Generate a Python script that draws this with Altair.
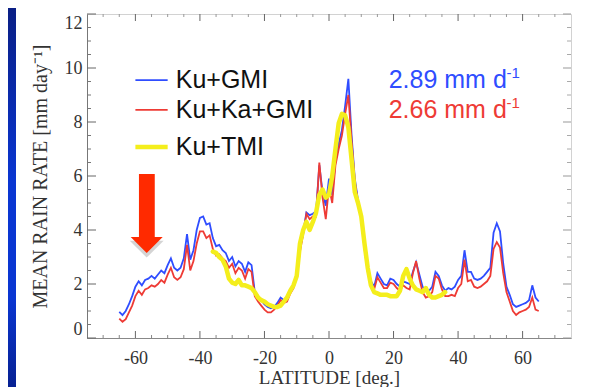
import altair as alt
import pandas as pd

# ---------------- data ----------------
LAT_GMI = list(range(-65, 66))
KU_GMI = [
    0.97, 0.85, 1.0, 1.25, 1.55, 1.9, 2.1, 1.95, 2.15, 2.2,
    2.3, 2.2, 2.35, 2.5, 2.4, 2.7, 2.95, 2.6, 2.5, 2.6,
    2.95, 3.85, 2.9, 3.25, 4.0, 4.45, 4.5, 4.2, 4.25, 3.7,
    3.4, 3.45, 3.25, 3.15, 2.85, 3.0, 2.65, 2.85, 2.75, 2.45,
    2.8, 2.7, 1.7, 1.55, 1.4, 1.25, 1.15, 1.1, 1.15, 1.3,
    1.5, 1.4, 1.45, 1.75, 1.95, 2.4, 3.3, 3.9, 4.65, 4.55,
    4.6, 4.7, 6.4, 5.4, 4.9, 5.9, 5.3, 6.6, 7.2, 7.7,
    8.6, 9.6, 7.5, 5.9, 5.1, 4.5, 3.4, 2.6, 2.1, 1.9,
    2.4, 2.2, 2.0, 1.95, 2.2, 2.15, 2.0, 1.9, 2.1, 2.05,
    2.0, 2.45, 2.8, 2.35, 1.9, 1.75, 1.75, 1.9, 2.45, 2.3,
    1.95, 1.75, 1.85, 1.8, 1.9, 2.15, 2.3, 3.25, 2.45, 2.45,
    2.2, 2.15, 2.2, 2.3, 2.45, 2.6, 3.9, 4.25, 3.95, 2.75,
    1.9, 1.6, 1.25, 1.15, 1.2, 1.25, 1.3, 1.4, 1.95, 1.5, 1.35,
]
KU_KA_GMI = [
    0.72, 0.6, 0.7, 0.95, 1.2, 1.55, 1.75, 1.6, 1.8, 1.85,
    1.95, 1.9, 2.0, 2.15, 2.05, 2.35, 2.6, 2.25, 2.15, 2.25,
    2.55, 3.45, 2.5, 2.85, 3.5, 3.95, 3.95, 3.7, 3.8, 3.3,
    3.05, 3.1, 2.95, 2.85, 2.6, 2.75, 2.4, 2.6, 2.5, 2.2,
    2.55, 2.45, 1.55, 1.35, 1.2, 1.05, 0.95, 0.95, 1.05, 1.2,
    1.4, 1.3, 1.35, 1.65, 1.85, 2.3, 3.2, 3.85, 4.6, 4.4,
    4.5, 4.5, 6.5, 5.2, 4.4, 5.6, 5.0, 6.4, 7.0, 7.5,
    8.3, 9.0, 7.3, 5.8, 5.0, 4.4, 3.3, 2.45, 1.95, 1.8,
    2.25, 2.05, 1.85, 1.85, 2.05, 2.0, 1.85, 1.75, 1.95, 1.85,
    1.8, 2.4, 2.85, 2.2, 1.7, 1.5, 1.55, 1.7, 2.3, 2.2,
    1.8, 1.55, 1.55, 1.6, 1.55, 1.85, 2.0, 2.9, 2.1, 2.15,
    1.9, 1.85, 1.9, 2.0, 2.1, 2.3, 3.3, 3.55, 3.35, 2.4,
    1.7, 1.35, 1.0, 0.85, 0.95, 1.0, 1.05, 1.15, 1.5, 1.05, 1.0,
]
LAT_TMI = list(range(-36, 37))
KU_TMI = [
    3.2, 3.15, 3.0, 2.9, 2.65, 2.2, 2.05, 2.0, 2.15, 1.95,
    1.95, 1.9, 1.85, 1.7, 1.5, 1.4, 1.35, 1.25, 1.2, 1.15,
    1.15, 1.2, 1.35, 1.5, 1.75, 1.95, 2.3, 3.5, 4.0, 4.3,
    4.0, 4.3, 4.65, 5.3, 5.5, 5.2, 5.3, 6.0, 7.0, 7.95,
    8.3, 8.25, 7.8, 6.6, 5.4, 5.0, 4.5, 3.5, 2.6, 1.95,
    1.7, 1.65, 1.6, 1.6, 1.6, 1.55, 1.55, 1.55, 1.75, 2.3,
    2.55, 2.2, 1.95, 1.8, 1.75, 1.7, 1.85, 1.6, 1.5, 1.5,
    1.55, 1.6, 1.7,
]

SERIES = ["Ku+GMI", "Ku+Ka+GMI", "Ku+TMI"]
COLORS = ["#2f4dff", "#ee3b35", "#f4ee1c"]
WIDTHS = [1.8, 1.8, 4.5]
LEGEND_Y = [9.55, 8.45, 7.07]
LEGEND_X1, LEGEND_X2, LEGEND_TX = -60.0, -50.0, -47.5

STAT_TEXT = ["2.89 mm d", "2.66 mm d"]
STAT_Y = [9.55, 8.45]
STAT_SUP_Y = [9.8, 8.7]
STAT_X, STAT_SUP_X = 18.5, 55.0

XMAJOR = [-60, -40, -20, 0, 20, 40, 60]
XMINOR = [-70, -65, -55, -50, -45, -35, -30, -25, -15, -10, -5,
          5, 10, 15, 25, 30, 35, 45, 50, 55, 65, 70]
YMAJOR = [0, 2, 4, 6, 8, 10, 12]
YMINOR = [0.5, 1, 1.5, 2.5, 3, 3.5, 4.5, 5, 5.5, 6.5, 7, 7.5,
          8.5, 9, 9.5, 10.5, 11, 11.5]

# arrow annotation (data coordinates)
ARROW_SHAFT = {"x1": -58.9, "x2": -54.0, "y1": 6.07, "y2": 3.7}
ARROW_HEAD = {"x": -56.5, "y": 3.44}

W, H = 484, 324
xs = alt.Scale(domain=[-75, 75], nice=False, zero=False)
ys = alt.Scale(domain=[0, 12], nice=False, zero=False)

SERIF = "Liberation Serif"
SANS = "Liberation Sans"

XAX = alt.Axis(
    values=XMAJOR, ticks=False, tickSize=0, grid=False,
    labelExpr="'' + datum.value", labelFont=SERIF, labelFontSize=18,
    labelColor="#333", labelPadding=20, labelBaseline="middle",
    domainColor="#888", title="LATITUDE [deg.]", titleFont=SERIF,
    titleFontSize=19, titleFontWeight="normal", titleColor="#333",
    titleY=39, titleBaseline="middle")
YAX = alt.Axis(
    values=YMAJOR, ticks=False, tickSize=0, grid=False, labelFlush=True,
    labelFont=SERIF, labelFontSize=18, labelColor="#333", labelPadding=5,
    domainColor="#777", title="MEAN RAIN RATE [mm day⁻¹]", titleFont=SERIF,
    titleFontSize=20, titleFontWeight="normal", titleColor="#333",
    titleX=-47, titleBaseline="middle")


def X(field):
    return alt.X(field, scale=xs, axis=XAX)


def Y(field):
    return alt.Y(field, scale=ys, axis=YAX)


# ---------------- layers ----------------
def series_df(lats, vals):
    return pd.DataFrame({"lat": lats, "val": vals})


blue = alt.Chart(series_df(LAT_GMI, KU_GMI)).mark_line(
    color=COLORS[0], strokeWidth=WIDTHS[0]
).encode(x=X("lat:Q"), y=Y("val:Q"))
red = alt.Chart(series_df(LAT_GMI, KU_KA_GMI)).mark_line(
    color=COLORS[1], strokeWidth=WIDTHS[1]
).encode(x=X("lat:Q"), y=Y("val:Q"))
yellow = alt.Chart(series_df(LAT_TMI, KU_TMI)).mark_line(
    color=COLORS[2], strokeWidth=WIDTHS[2], strokeJoin="round", strokeCap="round"
).encode(x=X("lat:Q"), y=Y("val:Q"))

strip = alt.Chart(pd.DataFrame({"a": [0]})).mark_rect(
    color=alt.Gradient(
        gradient="linear",
        stops=[alt.GradientStop(color="#0a1f85", offset=0),
               alt.GradientStop(color="#0a36d2", offset=0.45),
               alt.GradientStop(color="#0a36d2", offset=0.75),
               alt.GradientStop(color="#071f8c", offset=1)],
        x1=0, x2=0, y1=0, y2=1)
).encode(x=alt.value(-79), x2=alt.value(-71), y=alt.value(-6), y2=alt.value(H + 57))


def tick_layer(values, field, orient, length, color):
    df = pd.DataFrame({"lat" if field == "x" else "val": values})
    if field == "y":
        enc = dict(y=Y("val:Q"))
        if orient == "left":
            enc.update(x=alt.value(0), x2=alt.value(length))
        else:
            enc.update(x=alt.value(W), x2=alt.value(W - length))
    else:
        enc = dict(x=X("lat:Q"))
        if orient == "bottom":
            enc.update(y=alt.value(H), y2=alt.value(H - length))
        else:
            enc.update(y=alt.value(0), y2=alt.value(length))
    return alt.Chart(df).mark_rule(color=color, strokeWidth=1).encode(**enc)


ticks = [
    tick_layer(YMAJOR, "y", "left", 9, "#666"),
    tick_layer(YMINOR, "y", "left", 4, "#777"),
    tick_layer(YMAJOR, "y", "right", 8, "#999"),
    tick_layer(YMINOR, "y", "right", 4, "#aaa"),
    tick_layer(XMAJOR, "x", "bottom", 7, "#666"),
    tick_layer(XMINOR, "x", "bottom", 3, "#888"),
    tick_layer(XMAJOR, "x", "top", 7, "#666"),
    tick_layer(XMINOR, "x", "top", 3, "#999"),
]

# arrow
shaft = alt.Chart(pd.DataFrame([ARROW_SHAFT])).mark_rect(color="#ff2a00").encode(
    x=X("x1:Q"), x2="x2:Q", y=Y("y1:Q"), y2="y2:Q")
TRI = "M-1,-0.5L1,-0.5L0,0.5Z"
head_shadow = alt.Chart(pd.DataFrame([ARROW_HEAD])).mark_point(
    shape=TRI, filled=True, size=1150, color="#555", opacity=0.25, strokeWidth=0
).encode(x=X("x:Q"), y=Y("y:Q"), yOffset=alt.value(4))
head = alt.Chart(pd.DataFrame([ARROW_HEAD])).mark_point(
    shape=TRI, filled=True, size=1024, color="#ff2a00", opacity=1, strokeWidth=0
).encode(x=X("x:Q"), y=Y("y:Q"))

# legend
leg_df = pd.DataFrame({"name": SERIES, "color": COLORS, "w": WIDTHS, "y": LEGEND_Y,
                       "x1": [LEGEND_X1] * 3, "x2": [LEGEND_X2] * 3, "tx": [LEGEND_TX] * 3})
leg_lines = alt.Chart(leg_df).mark_rule().encode(
    x=X("x1:Q"), x2="x2:Q", y=Y("y:Q"),
    color=alt.Color("color:N", scale=None),
    strokeWidth=alt.StrokeWidth("w:Q", scale=None))
leg_text = alt.Chart(leg_df).mark_text(
    align="left", baseline="middle", font=SANS, fontSize=25, color="#111"
).encode(x=X("tx:Q"), y=Y("y:Q"), text="name:N")

stat_df = pd.DataFrame({"t": STAT_TEXT, "y": STAT_Y, "sy": STAT_SUP_Y,
                        "color": COLORS[:2], "x": [STAT_X] * 2, "sx": [STAT_SUP_X] * 2,
                        "sup": ["-1", "-1"]})
stat_text = alt.Chart(stat_df).mark_text(
    align="left", baseline="middle", font=SANS, fontSize=25
).encode(x=X("x:Q"), y=Y("y:Q"), text="t:N",
         color=alt.Color("color:N", scale=None))
stat_sup = alt.Chart(stat_df).mark_text(
    align="left", baseline="middle", font=SANS, fontSize=15
).encode(x=X("sx:Q"), y=Y("sy:Q"), text="sup:N",
         color=alt.Color("color:N", scale=None))

chart = alt.layer(
    blue, strip, *ticks, head_shadow, shaft, head, red, yellow,
    leg_lines, leg_text, stat_text, stat_sup
).properties(
    width=W, height=H,
    autosize=alt.AutoSizeParams(type="none"),
    padding={"left": 79, "top": 6, "right": 17, "bottom": 57},
    background="white",
).configure_view(stroke="#d2d2d2", strokeWidth=1)

chart.save("out.html", embed_options={"renderer": "svg", "actions": False})
